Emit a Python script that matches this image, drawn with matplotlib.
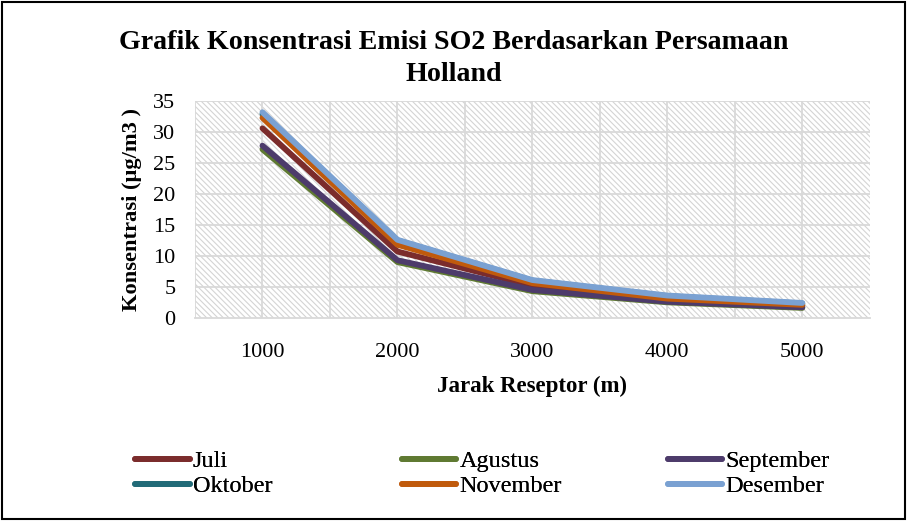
import matplotlib
matplotlib.use("Agg")
import matplotlib.pyplot as plt
from matplotlib.patches import Rectangle

plt.rcParams['font.family'] = ['Liberation Serif', 'DejaVu Serif']
plt.rcParams['hatch.color'] = '#d4d4d4'
plt.rcParams['hatch.linewidth'] = 0.8

jarak = ['1000', '2000', '3000', '4000', '5000']
juli = [30.6, 10.7, 5.2, 2.9, 1.9]
agustus = [27.2, 9.0, 4.3, 2.5, 1.6]
september = [27.8, 9.3, 4.5, 2.6, 1.7]
oktober = [32.9, 12.5, 6.0, 3.5, 2.3]
november = [32.3, 11.8, 5.6, 3.1, 2.1]
desember = [33.2, 12.6, 6.1, 3.6, 2.4]

series = [
    ('Juli', juli, '#7b2c2c'),
    ('Agustus', agustus, '#5f7a32'),
    ('September', september, '#4d3b6b'),
    ('Oktober', oktober, '#226b78'),
    ('November', november, '#c05a0c'),
    ('Desember', desember, '#7aa1d2'),
]

fig = plt.figure(figsize=(9.07, 5.21), dpi=100)
fig.patches.append(Rectangle((0.002, 0.003), 0.996, 0.994, transform=fig.transFigure,
                             fill=False, edgecolor='black', linewidth=1.5))

ax = fig.add_axes([0.215, 0.39, 0.744, 0.416])
ax.patch.set_facecolor('white')
ax.patch.set_hatch('\\\\\\\\\\\\')
ax.patch.set_edgecolor('#d4d4d4')
ax.patch.set_linewidth(0)

x = list(range(1, len(jarak) + 1))
handles = []
for name, vals, col in series:
    h, = ax.plot(x, vals, color=col, linewidth=4.2, label=name, solid_capstyle='round',
                 solid_joinstyle='round', zorder=3)
    handles.append(h)

ax.set_xlim(0.5, 5.5)
ax.set_ylim(0, 35)
ax.set_yticks(range(0, 36, 5))
ax.set_xticks(x)
ax.set_xticklabels(jarak)
for v in [i * 0.5 for i in range(1, 11)]:
    ax.axvline(v, color='#d9d9d9', linewidth=1.3, zorder=1)
for v in range(5, 36, 5):
    ax.axhline(v, color='#d9d9d9', linewidth=1.3, zorder=1)
for s in ['top', 'right', 'left']:
    ax.spines[s].set_visible(False)
ax.spines['bottom'].set_color('#d9d9d9')
ax.spines['bottom'].set_linewidth(1.3)
ax.tick_params(axis='both', length=0, labelsize=16)
ax.tick_params(axis='y', pad=14)
ax.tick_params(axis='x', pad=18)

ax.set_xlabel('Jarak Reseptor (m)', fontsize=16.5, fontweight='bold', labelpad=10)
ax.set_ylabel('Konsentrasi (µg/m3 )', fontsize=16.2, fontweight='bold', labelpad=8)

fig.text(0.5, 0.888, 'Grafik Konsentrasi Emisi SO2 Berdasarkan Persamaan\nHolland',
         ha='center', va='center', fontsize=20.2, fontweight='bold', linespacing=1.4)

col_x = [0.149, 0.443, 0.736]
for i, cx in enumerate(col_x):
    hs = [handles[i], handles[i + 3]]
    leg = fig.legend(hs, [h.get_label() for h in hs], loc='upper left',
                     bbox_to_anchor=(cx, 0.136), ncol=1, frameon=False,
                     fontsize=17.5, handlelength=2.25, handletextpad=0.12,
                     labelspacing=0.12, borderaxespad=0, borderpad=0)
    fig.add_artist(leg)

fig.savefig('out.png', dpi=100)
